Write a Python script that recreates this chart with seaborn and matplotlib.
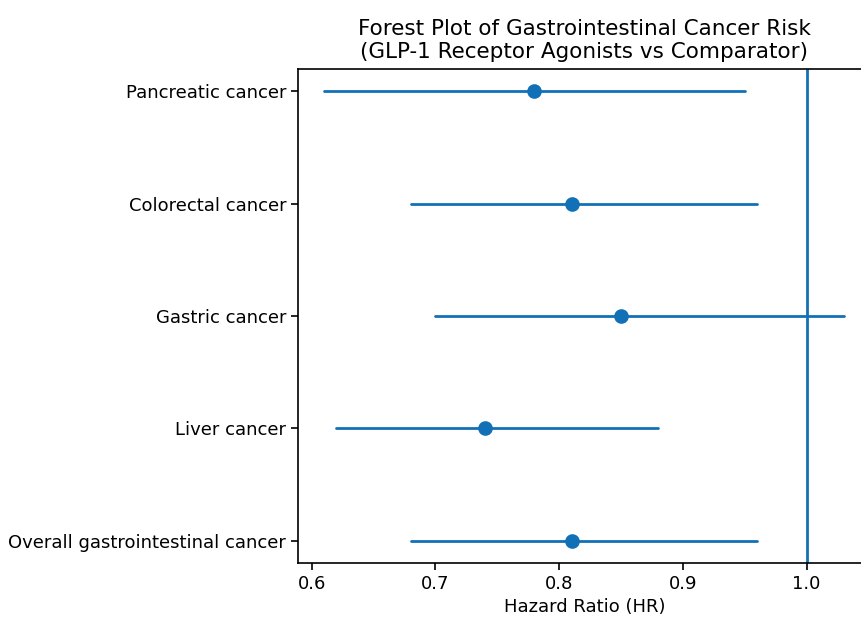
import matplotlib
matplotlib.use('Agg')
import matplotlib.pyplot as plt
import pandas as pd
import seaborn as sns

# Outcomes (top to bottom) with hazard ratios and 95% CI bounds
outcomes = ['Pancreatic cancer', 'Colorectal cancer', 'Gastric cancer',
            'Liver cancer', 'Overall gastrointestinal cancer']
hr = [0.78, 0.81, 0.85, 0.74, 0.81]
ci_low = [0.61, 0.68, 0.70, 0.62, 0.68]
ci_high = [0.95, 0.96, 1.03, 0.88, 0.96]

blue = '#1271b6'

# Long format: median of (low, hr, high) is the HR, the full range is the CI
rows = []
for name, lo, h, hi in zip(outcomes, ci_low, hr, ci_high):
    for v in (lo, h, hi):
        rows.append({'outcome': name, 'value': v})
df = pd.DataFrame(rows)

sns.set_style('ticks', {'axes.edgecolor': 'black', 'text.color': 'black',
                        'xtick.color': 'black', 'ytick.color': 'black',
                        'axes.labelcolor': 'black'})
plt.rcParams['font.family'] = ['DejaVu Sans']

fig = plt.figure(figsize=(8.61, 6.19), dpi=100)
# axes run a bit past the right edge, as in the reference crop
ax = fig.add_axes([298 / 861, 56 / 619, 573 / 861, 494 / 619])

sns.pointplot(data=df, x='value', y='outcome', order=outcomes,
              estimator='median', errorbar=('pi', 100),
              linestyle='none', color=blue, markers='o',
              markersize=8.5, err_kws={'linewidth': 2.0}, ax=ax)

ax.axvline(1.0, color=blue, linewidth=2.0, zorder=1)

ax.set_xlim(0.589, 1.052)
ax.set_ylim(4.2, -0.2)
ax.set_xticks([0.6, 0.7, 0.8, 0.9, 1.0])
ax.set_xlabel('Hazard Ratio (HR)', fontsize=13)
ax.set_ylabel('')
ax.set_title('Forest Plot of Gastrointestinal Cancer Risk\n(GLP-1 Receptor Agonists vs Comparator)',
             fontsize=15.5, pad=8)
ax.tick_params(labelsize=13, length=5, width=1.2)
for s in ax.spines.values():
    s.set_linewidth(1.2)
    s.set_visible(True)

fig.savefig('out.png', dpi=100)
